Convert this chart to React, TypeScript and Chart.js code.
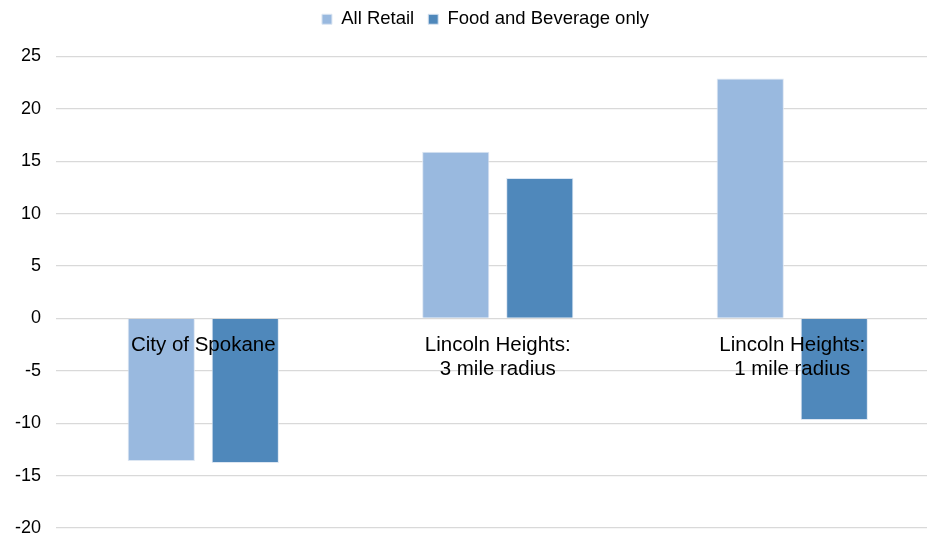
import React, { useEffect, useRef } from "react";
import { Chart, registerables } from "chart.js";

Chart.register(...registerables);

const categories: string[][] = [
  ["City of Spokane"],
  ["Lincoln Heights:", "3 mile radius"],
  ["Lincoln Heights:", "1 mile radius"],
];
const allRetail = [-13.6, 15.9, 22.9];
const foodBeverage = [-13.8, 13.4, -9.7];
const yMin = -20;
const yMax = 25;
const yStep = 5;

const FONT = "'Liberation Sans', Arial, sans-serif";
// the reference plot area runs past the right edge of the picture
const PLOT_WIDTH = 883.5;
const LEGEND_CENTER = 485.5;

const layoutTweaks = {
  id: "layoutTweaks",
  beforeInit(chart: any) {
    const legend = chart.legend;
    if (!legend) return;
    const orig = legend.fit;
    legend.fit = function () {
      orig.call(this);
      this.height += 18;
    };
  },
  afterLayout(chart: any) {
    const ca = chart.chartArea;
    const right = ca.left + PLOT_WIDTH;
    chart.chartArea = { ...ca, right, width: right - ca.left };
    const x = chart.scales.x;
    if (x) {
      x.left = ca.left;
      x.right = right;
      x.width = right - ca.left;
      x.configure();
    }
    const legend = chart.legend;
    if (legend) {
      const shift = LEGEND_CENTER - (legend.left + legend.right) / 2;
      legend.left += shift;
      legend.right += shift;
    }
  },
};

export default function App() {
  const ref = useRef<HTMLCanvasElement | null>(null);
  useEffect(() => {
    document.body.style.margin = "0";
    const ctx = ref.current!;
    const chart = new Chart(ctx, {
      type: "bar",
      data: {
        labels: categories,
        datasets: [
          {
            label: "All Retail",
            data: allRetail,
            backgroundColor: "#99B9DF",
            borderColor: "#DCE6F2",
            borderWidth: 1,
          },
          {
            label: "Food and Beverage only",
            data: foodBeverage,
            backgroundColor: "#4F88BB",
            borderColor: "#DCE6F2",
            borderWidth: 1,
          },
        ],
      },
      plugins: [layoutTweaks],
      options: {
        animation: false,
        responsive: false,
        maintainAspectRatio: false,
        layout: { padding: { left: 0, right: 0, top: -4, bottom: 13 } },
        datasets: {
          bar: { categoryPercentage: 0.5705, barPercentage: 0.8 },
        },
        plugins: {
          legend: {
            position: "top",
            fullSize: false,
            labels: {
              boxWidth: 10,
              boxHeight: 10,
              padding: 14,
              color: "#000",
              font: { family: FONT, size: 18.5 },
            },
          },
          tooltip: { enabled: false },
        },
        scales: {
          x: {
            position: { y: 0 } as any,
            grid: { display: false, drawTicks: false },
            border: { display: false },
            afterFit(scale: any) {
              scale.paddingTop = 0;
              scale.paddingBottom = 0;
              scale.paddingLeft = 0;
              scale.paddingRight = 0;
            },
            ticks: {
              z: 1,
              padding: 15,
              maxRotation: 0,
              autoSkip: false,
              color: "#000",
              font: { family: FONT, size: 20.5, lineHeight: 1.17 },
            },
          },
          y: {
            min: yMin,
            max: yMax,
            afterFit(scale: any) {
              scale.paddingBottom = 0;
            },
            ticks: {
              stepSize: yStep,
              padding: 15,
              color: "#000",
              font: { family: FONT, size: 18 },
            },
            grid: { color: "#D9D9D9", lineWidth: 1.3, drawTicks: false },
            border: { display: false },
          },
        },
      },
    });
    return () => chart.destroy();
  }, []);
  return (
    <div style={{ width: 927, height: 541, overflow: "hidden" }}>
      <canvas ref={ref} width={927} height={541} />
    </div>
  );
}
